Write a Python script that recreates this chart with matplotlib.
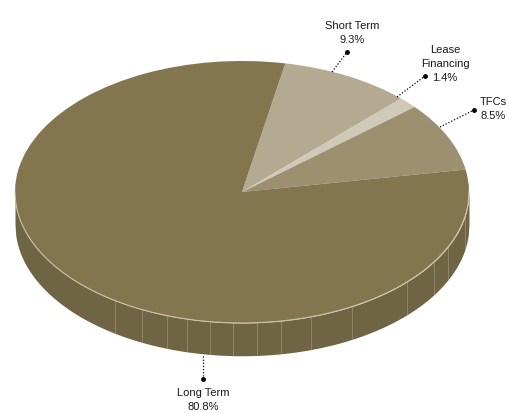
import numpy as np
import matplotlib
matplotlib.use("Agg")
import matplotlib.pyplot as plt
from matplotlib import font_manager

# ---- data ----
categories = ["Short Term", "Lease\nFinancing", "TFCs", "Long Term"]
values = [9.3, 1.4, 8.5, 80.8]
pct_labels = ["9.3%", "1.4%", "8.5%", "80.8%"]

# ---- style ----
top_colors = ["#B4AA92", "#CFC9B7", "#9D9070", "#83764F"]
side_color = "#6F6443"
rim_light = "#CBC2A8"
start_angle = 79
depth = 0.25

names = {f.name for f in font_manager.fontManager.ttflist}
fam = ["Liberation Sans Narrow"] if "Liberation Sans Narrow" in names else []
fam += ["Liberation Sans", "DejaVu Sans"]
plt.rcParams["font.family"] = fam

fig = plt.figure(figsize=(5.09, 4.13), dpi=100)
ax = fig.add_axes([0, 0, 1, 1])

# side wall (front half)
xs = np.linspace(-1, 1, 600)
ys = -np.sqrt(np.clip(1 - xs**2, 0, None))
ax.fill_between(xs, ys - depth, ys + 0.001, color=side_color, lw=0, zorder=1)

# faint seams on the side
seam_deg = [236, 244, 250.7, 256, 262, 267.7, 273.8, 280, 287.7, 299, 316.6, 327.8, 335, 349]
for s in seam_deg:
    t = np.deg2rad(s)
    ax.plot([np.cos(t)] * 2, [np.sin(t), np.sin(t) - depth], color=rim_light,
            lw=0.5, alpha=0.5, zorder=2)

# top face
wedges, _ = ax.pie(values, colors=top_colors, startangle=start_angle,
                   counterclock=False, radius=1, center=(0, 0),
                   wedgeprops=dict(linewidth=0))
for w in wedges:
    w.set_zorder(3)

# light rim along front edge
ax.plot(xs, ys, color=rim_light, lw=0.8, zorder=4)

# fixed figure geometry: center at pixel (242, 192 from top)
W, H = 509, 413
ax_px = 227.0
ay_px = 131.0
cx, cy = 242, H - 192
ax.set_xlim(-cx / ax_px, (W - cx) / ax_px)
ax.set_ylim(-cy / ay_px, (H - cy) / ay_px)
ax.set_aspect("auto")
ax.axis("off")

def px2data(px, py):
    return ((px - cx) / ax_px, ((H - py) - cy) / ay_px)

# label anchor (on slice), dot position, text position (pixels)
anchors = [(332, 72), (397, 97), (440, 127), (203, 356)]
dots = [(347, 52), (425, 76), (474, 110), (203, 379)]
texts = [(352, 33), (445, 64), (493, 109), (203, 400)]

for i, (cat, pl) in enumerate(zip(categories, pct_labels)):
    a = px2data(*anchors[i])
    d = px2data(*dots[i])
    ax.plot([a[0], d[0]], [a[1], d[1]], color="black", lw=0.9, ls=(0, (1, 1.5)), zorder=5)
    ax.plot([d[0]], [d[1]], "o", color="black", ms=2.5, zorder=6)
    t = px2data(*texts[i])
    ax.text(t[0], t[1], f"{cat}\n{pl}", ha="center", va="center", fontsize=8,
            color="#1a1a1a", linespacing=1.5, zorder=6)

fig.savefig("out.png", dpi=100)
